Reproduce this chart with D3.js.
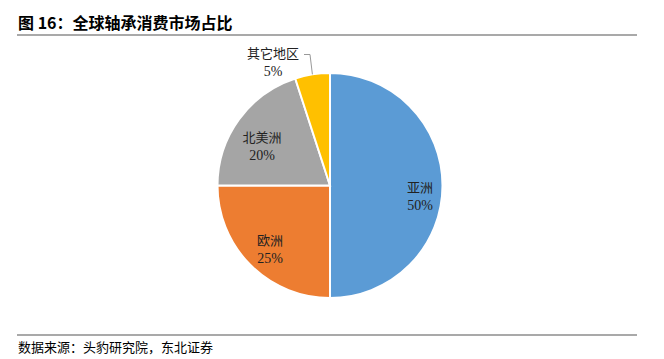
<!DOCTYPE html>
<html>
<head>
<meta charset="utf-8">
<script src="https://cdn.jsdelivr.net/npm/d3@7"></script>
<style>
  body { margin: 0; background: #fff; }
  svg { display: block; }
</style>
</head>
<body>
<script>
// data
let regions = ["亚洲", "欧洲", "北美洲", "其它地区"];
let shares = [50, 25, 20, 5];
let colors = ["#5B9BD5", "#ED7D31", "#A5A5A5", "#FFC000"];

let width = 664, height = 359;
let center = { x: 330, y: 185.5 };
let radius = 112.5;

let cjk = "'Noto Sans CJK SC', sans-serif";
let num = "'Liberation Serif', 'Times New Roman', serif";

let svg = d3.select("body").append("svg")
  .attr("width", width)
  .attr("height", height);

// title and rules
svg.append("text")
  .attr("x", 18).attr("y", 29)
  .style("font-family", cjk)
  .style("font-weight", "bold")
  .style("font-size", "16px")
  .text("图 16：全球轴承消费市场占比");

svg.append("line")
  .attr("x1", 17).attr("x2", 637).attr("y1", 35).attr("y2", 35)
  .attr("stroke", "#555").attr("stroke-width", 1.2);

svg.append("line")
  .attr("x1", 17).attr("x2", 637).attr("y1", 335).attr("y2", 335)
  .attr("stroke", "#555").attr("stroke-width", 1.2);

svg.append("text")
  .attr("x", 18).attr("y", 352)
  .style("font-family", cjk)
  .style("font-size", "13px")
  .text("数据来源：头豹研究院，东北证券");

// pie
let pie = d3.pie().sort(null).value(d => d);
let arcs = pie(shares);
let arc = d3.arc().innerRadius(0).outerRadius(radius);

let g = svg.append("g")
  .attr("transform", "translate(" + center.x + "," + center.y + ")");

g.selectAll("path")
  .data(arcs)
  .enter()
  .append("path")
  .attr("d", arc)
  .attr("fill", (d, i) => colors[i])
  .attr("stroke", "#fff")
  .attr("stroke-width", 2);

// label positions relative to pie center (dx, dy of the first line)
let labelPos = [
  { dx: 90, dy: 6 },
  { dx: -60, dy: 59 },
  { dx: -68, dy: -44 },
  { dx: -57, dy: -128 }
];

let labels = g.selectAll(".lbl")
  .data(arcs)
  .enter()
  .append("g")
  .attr("class", "lbl")
  .attr("transform", (d, i) => "translate(" + labelPos[i].dx + "," + labelPos[i].dy + ")");

labels.append("text")
  .attr("text-anchor", "middle")
  .style("font-family", cjk)
  .style("font-size", "13px")
  .style("fill", "#222")
  .text((d, i) => regions[i]);

labels.append("text")
  .attr("text-anchor", "middle")
  .attr("y", 18)
  .style("font-family", num)
  .style("font-size", "14px")
  .style("fill", "#222")
  .text(d => d.data + "%");

// leader line for the small slice
let small = arcs[3];
let mid = (small.startAngle + small.endAngle) / 2;
let edge = [Math.sin(mid) * radius, -Math.cos(mid) * radius];
g.append("polyline")
  .attr("points", [[-26, -131], [-20, -131], edge].map(p => p.join(",")).join(" "))
  .attr("fill", "none")
  .attr("stroke", "#999")
  .attr("stroke-width", 1);
</script>
</body>
</html>
